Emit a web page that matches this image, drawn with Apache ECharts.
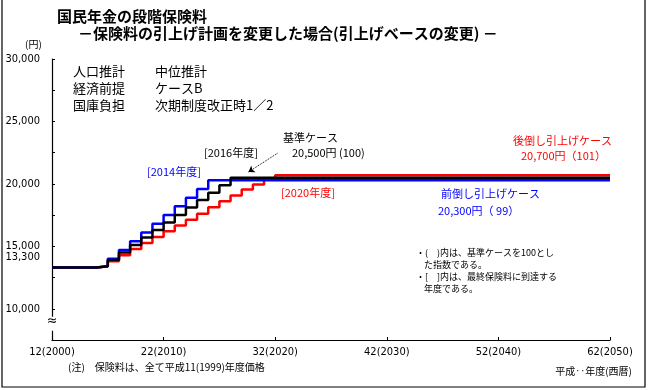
<!DOCTYPE html>
<html>
<head>
<meta charset="utf-8">
<script src="https://cdn.jsdelivr.net/npm/echarts@6/dist/echarts.min.js"></script>
<style>
html,body{margin:0;padding:0;background:#fff;}
#chart{width:649px;height:390px;}
</style>
</head>
<body>
<div id="chart"></div>
<script>
// ---- data ----
const years = [2000, 2004, 2005, 2006, 2007, 2008, 2009, 2010, 2011, 2012, 2013, 2014, 2015, 2016, 2017, 2018, 2019, 2020, 2050];
const baseCase  = [13300, 13400, 13900, 14500, 15100, 15700, 16300, 16900, 17500, 18100, 18700, 19300, 19900, 20500, 20500, 20500, 20500, 20500, 20500];
const frontCase = [13300, 13400, 14000, 14700, 15400, 16100, 16800, 17500, 18200, 18900, 19600, 20300, 20300, 20300, 20300, 20300, 20300, 20300, 20300];
const backCase  = [13300, 13400, 13800, 14280, 14790, 15270, 15750, 16210, 16670, 17120, 17600, 18130, 18600, 19080, 19550, 19960, 20350, 20700, 20700];

const xTickYears  = [2000, 2010, 2020, 2030, 2040, 2050];
const xTickLabels = ['12(2000)', '22(2010)', '32(2020)', '42(2030)', '52(2040)', '62(2050)'];
const yLabelValues = [10000, 13300, 15000, 20000, 25000, 30000];
const yTickValues  = [10000, 12500, 15000, 17500, 20000, 22500, 25000, 27500, 30000];

const FONT_NUM = "'Liberation Sans Narrow', 'DejaVu Sans Condensed', 'Liberation Sans', sans-serif";
const FONT_JP = "'Noto Sans CJK JP', 'Noto Sans', sans-serif";

function pairs(vals) { return years.map((y, i) => [y, vals[i]]); }
function fmt(v) { return String(v).replace(/\B(?=(\d{3})+(?!\d))/g, ','); }

const chart = echarts.init(document.getElementById('chart'), null, {renderer: 'canvas'});

function txt(text, x, y, size, color, opts) {
  opts = opts || {};
  return {
    type: 'text', x: x, y: y, silent: true,
    style: {
      text: text, fill: color || '#000',
      font: (opts.bold ? 'bold ' : '') + size + 'px ' + (opts.family || FONT_JP),
      textAlign: opts.align || 'left', textVerticalAlign: 'middle'
    }
  };
}

const option = {
  animation: false,
  backgroundColor: '#fff',
  grid: {left: 52, right: 39, top: 59, bottom: 50, containLabel: false, outerBoundsMode: 'none'},
  xAxis: {
    type: 'value', min: 2000, max: 2050, interval: 10,
    axisLine: {show: true, lineStyle: {color: '#000', width: 1.2}},
    axisTick: {show: true, inside: true, length: 3, lineStyle: {color: '#000'}},
    splitLine: {show: false},
    axisLabel: {
      margin: 7, color: '#000', fontSize: 11, fontFamily: FONT_NUM,
      formatter: v => xTickLabels[xTickYears.indexOf(v)] || ''
    }
  },
  yAxis: {
    type: 'value', min: 7500, max: 30000, interval: 2500,
    axisLine: {show: true, lineStyle: {color: '#000', width: 1.2}},
    axisTick: {show: true, inside: true, length: 3, customValues: yTickValues, lineStyle: {color: '#000'}},
    splitLine: {show: false},
    axisLabel: {
      customValues: yLabelValues,
      margin: 12, color: '#000', fontSize: 11, fontFamily: FONT_NUM,
      formatter: v => v === 13300 ? '{up|' + fmt(v) + '}' : fmt(v),
      rich: {up: {fontSize: 11, fontFamily: FONT_NUM, color: '#000', padding: [0, 0, 20, 0]}}
    }
  },
  series: [
    {
      name: '後倒し引上げケース', type: 'line', step: 'end', showSymbol: false,
      data: pairs(backCase), lineStyle: {color: '#ff0000', width: 2.5}, itemStyle: {color: '#ff0000'}
    },
    {
      name: '前倒し引上げケース', type: 'line', step: 'end', showSymbol: false,
      data: pairs(frontCase), lineStyle: {color: '#0000ff', width: 2.5}, itemStyle: {color: '#0000ff'}
    },
    {
      name: '基準ケース', type: 'line', step: 'end', showSymbol: false,
      data: pairs(baseCase), lineStyle: {color: '#000', width: 2.5}, itemStyle: {color: '#000'},
      markLine: {
        silent: true, symbol: ['none', 'arrow'], symbolSize: 6,
        lineStyle: {color: '#000', width: 1, type: 'dotted'},
        label: {show: false},
        data: [[{coord: [2020.2, 22450]}, {coord: [2017.6, 20950]}]]
      },
      markPoint: {
        silent: true,
        data: [{
          coord: [2000, 8800], symbol: 'rect', symbolSize: [7, 14],
          itemStyle: {color: '#fff'},
          label: {show: true, formatter: '≈', color: '#000', fontSize: 14, fontFamily: FONT_NUM, offset: [0, -2]}
        }]
      }
    }
  ],
  graphic: [
    {type: 'rect', silent: true, shape: {x: 2, y: -2, width: 643, height: 389}, style: {fill: 'none', stroke: '#000', lineWidth: 1.2}},
    txt('国民年金の段階保険料', 57, 16, 15, '#000', {bold: true}),
    txt('－保険料の引上げ計画を変更した場合(引上げベースの変更) －', 78, 33, 15, '#000', {bold: true}),
    txt('(円)', 25, 44, 10, '#000'),
    txt('人口推計', 73, 71, 13, '#000'),
    txt('中位推計', 155, 71, 13, '#000'),
    txt('経済前提', 73, 88, 13, '#000'),
    txt('ケースB', 155, 88, 13, '#000'),
    txt('国庫負担', 73, 105, 13, '#000'),
    txt('次期制度改正時1／2', 155, 105, 13, '#000'),
    txt('基準ケース', 283, 138, 11, '#000'),
    txt('20,500円 (100)', 292, 153, 11, '#000'),
    txt('[2016年度]', 204, 153, 11, '#000'),
    txt('[2014年度]', 147, 172, 11, '#0000ff'),
    txt('[2020年度]', 281, 193, 11, '#ff0000'),
    txt('後倒し引上げケース', 513, 141, 11, '#ff0000'),
    txt('20,700円（101）', 521, 156, 11, '#ff0000'),
    txt('前倒し引上げケース', 441, 194, 11, '#0000ff'),
    txt('20,300円（ 99）', 438, 211, 11, '#0000ff'),
    txt('・(　)内は、基準ケースを100とし', 416, 253, 9, '#000'),
    txt('た指数である。', 424, 265, 9, '#000'),
    txt('・[　]内は、最終保険料に到達する', 416, 277, 9, '#000'),
    txt('年度である。', 424, 289, 9, '#000'),
    txt('(注)　保険料は、全て平成11(1999)年度価格', 68, 367, 10, '#000'),
    txt('平成‥年度(西暦)', 632, 371, 10, '#000', {align: 'right'})
  ]
};
chart.setOption(option);
</script>
</body>
</html>
